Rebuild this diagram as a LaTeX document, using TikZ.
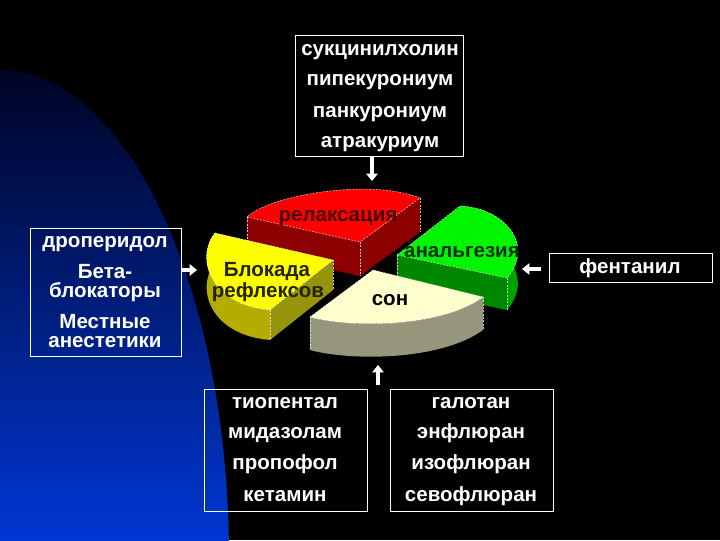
\documentclass[tikz,border=0pt]{standalone}
\usepackage{fontspec}
\setmainfont{Liberation Sans}
\usetikzlibrary{arrows.meta}
\definecolor{redtop}{RGB}{255,0,0}
\definecolor{redside}{RGB}{140,0,0}
\definecolor{redtxt}{RGB}{70,0,0}
\definecolor{yeltop}{RGB}{255,255,0}
\definecolor{yelside}{RGB}{180,172,0}
\definecolor{yelface}{RGB}{150,148,10}
\definecolor{yeltxt}{RGB}{35,35,0}
\definecolor{grntop}{RGB}{0,245,0}
\definecolor{grnside}{RGB}{0,160,0}
\definecolor{grnface}{RGB}{0,135,0}
\definecolor{grntxt}{RGB}{0,45,0}
\definecolor{crmtop}{RGB}{255,255,205}
\definecolor{crmside}{RGB}{150,150,125}
\definecolor{bluebot}{RGB}{0,55,210}
\definecolor{bluetop}{RGB}{0,3,35}
\begin{document}
\begin{tikzpicture}[x=0.75pt,y=-0.75pt,
  box/.style={draw=white,line width=0.75pt,inner sep=0pt,outer sep=0pt},
  txt/.style={text=white,font=\bfseries\fontsize{15.4}{18}\selectfont,anchor=base,inner sep=0pt},
  plab/.style={font=\bfseries\fontsize{15.4}{18}\selectfont,anchor=base,inner sep=0pt},
  arr/.style={draw=white,line width=3pt,-{Triangle[width=8.5pt,length=5.5pt]}},
  dashedge/.style={draw=white,line width=0.4pt,dash pattern=on 1.5pt off 1pt,opacity=0.75}]
\useasboundingbox (0,0) rectangle (720,540);
% background
\fill[black] (0,0) rectangle (720,540);
\begin{scope}
  \clip (0,558) ellipse [x radius=229, y radius=488];
  \shade[top color=bluetop,bottom color=bluebot] (0,68) rectangle (240,540);
\end{scope}

% ---- pie: red slice (back)
\fill[redside] (247,217) -- (360,242) -- (360,276) -- (247,251) -- cycle;
\fill[redside] (360,242) -- (420,198) -- (420,232) -- (360,276) -- cycle;
\fill[redtop] (247,217) -- (360,242) -- (420,198) .. controls (370,178) and (270,195) .. cycle;
\draw[dashedge] (247,217) -- (360,242) -- (420,198) .. controls (370,178) and (270,195) .. cycle;
\draw[dashedge] (360,242) -- (360,276) (420,198) -- (420,232) (247,217) -- (247,251);

% ---- green slice (right)
\fill[grnside] (460,206) .. controls (505,208) and (535,245) .. (507,278) -- (507,310) .. controls (535,277) and (505,240) .. (460,238) -- cycle;
\fill[grnface] (397,255) -- (507,278) -- (507,310) -- (397,287) -- cycle;
\fill[grntop] (397,255) -- (460,206) .. controls (505,208) and (535,245) .. (507,278) -- cycle;
\draw[dashedge] (397,255) -- (460,206) .. controls (505,208) and (535,245) .. (507,278) -- cycle;
\draw[dashedge] (507,278) -- (507,310) (397,255) -- (397,287);

% ---- yellow slice (left)
\fill[yelside] (270,310) .. controls (210,305) and (195,258) .. (215,233) -- (215,263) .. controls (195,288) and (210,335) .. (270,340) -- cycle;
\fill[yelface] (333,260) -- (270,310) -- (270,340) -- (333,290) -- cycle;
\fill[yeltop] (215,233) -- (333,260) -- (270,310) .. controls (210,305) and (195,258) .. cycle;
\draw[dashedge] (215,233) -- (333,260) -- (270,310) .. controls (210,305) and (195,258) .. cycle;
\draw[dashedge] (270,310) -- (270,340) (333,260) -- (333,290);

% ---- cream slice (front)
\fill[crmside] (310,317) .. controls (350,328) and (440,328) .. (483,297) -- (483,330) .. controls (440,361) and (350,361) .. (310,350) -- cycle;
\fill[crmtop] (373,270) -- (310,317) .. controls (350,328) and (440,328) .. (483,297) -- cycle;
\draw[dashedge] (373,270) -- (310,317) .. controls (350,328) and (440,328) .. (483,297) -- cycle;
\draw[dashedge] (310,317) -- (310,350) (483,297) -- (483,330);

% pie labels
\node[plab,text=redtxt] (lrel) at (338,221) {релаксация};
\node[plab,text=grntxt] (lanal) at (462,257) {анальгезия};
\node[plab,text=yeltxt] (lblk1) at (267,276) {Блокада};
\node[plab,text=yeltxt] (lblk2) at (268,297) {рефлексов};
\node[plab,text=black] (lson) at (390,305) {сон};

% boxes
\node[box,minimum width=0.75pt*168,minimum height=0.75pt*121] (topbox) at (379,95.5) {};
\node[box,minimum width=0.75pt*151,minimum height=0.75pt*128] (leftbox) at (106.2,292.5) {};
\node[box,minimum width=0.75pt*163,minimum height=0.75pt*29] (rightbox) at (630.5,267.5) {};
\node[box,minimum width=0.75pt*163,minimum height=0.75pt*122] (blbox) at (285.5,450) {};
\node[box,minimum width=0.75pt*163,minimum height=0.75pt*122] (brbox) at (471.5,450) {};

% box texts
\node[txt] (t1) at (380,55) {сукцинилхолин};
\node[txt] (t2) at (380,85) {пипекурониум};
\node[txt] (t3) at (380,117) {панкурониум};
\node[txt] (t4) at (380,147) {атракуриум};

\node[txt] (l1) at (105,247) {дроперидол};
\node[txt] (l2) at (105,278) {Бета-};
\node[txt] (l3) at (105,297) {блокаторы};
\node[txt] (l4) at (105,328) {Местные};
\node[txt] (l5) at (105,347) {анестетики};

\node[txt] (r1) at (630,273) {фентанил};

\node[txt] (b1) at (285,408) {тиопентал};
\node[txt] (b2) at (285,438) {мидазолам};
\node[txt] (b3) at (285,469) {пропофол};
\node[txt] (b4) at (285,501) {кетамин};

\node[txt] (c1) at (471,408) {галотан};
\node[txt] (c2) at (471,438) {энфлюран};
\node[txt] (c3) at (471,469) {изофлюран};
\node[txt] (c4) at (471,501) {севофлюран};

% arrows
\coordinate (a1) at (372,181);
\draw[arr] (topbox.south -| a1) -- (a1);
\coordinate (a2s) at (378,385);
\coordinate (a2e) at (378,365);
\draw[arr] (a2s) -- (a2e);
\coordinate (a3) at (197,270);
\draw[arr] (leftbox.east |- a3) -- (a3);
\coordinate (a4s) at (541,269);
\coordinate (a4e) at (522,269);
\draw[arr] (a4s) -- (a4e);
\end{tikzpicture}
\end{document}
